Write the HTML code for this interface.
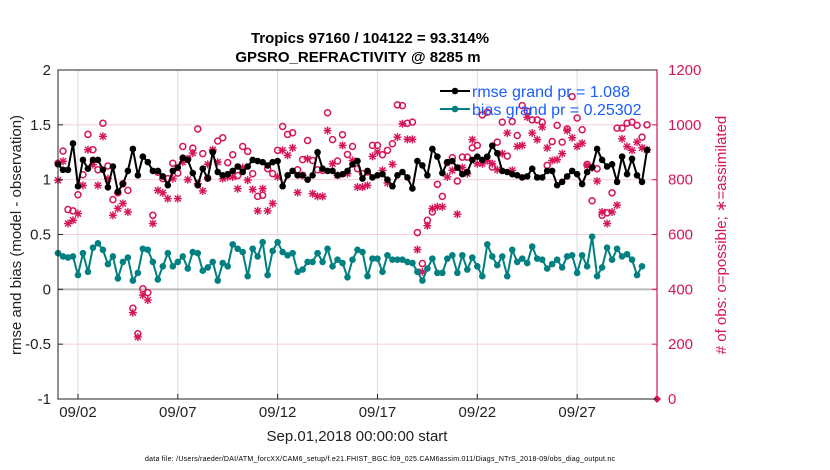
<!DOCTYPE html>
<html><head><meta charset="utf-8"><style>
body{margin:0;background:#fff;}
svg{display:block;font-family:"Liberation Sans",Arial,sans-serif;}
</style></head><body>
<svg id="chart" width="830" height="470" viewBox="0 0 830 470">
<g id="grid"></g><g id="marks"></g><g id="axes"></g>
</svg>
<script>
const rmse=[1.14,1.09,1.09,1.33,0.94,1.18,1.10,1.18,1.18,1.09,0.93,1.12,0.89,0.96,1.08,1.28,1.04,1.21,1.16,1.08,1.08,1.03,0.95,1.08,1.11,1.20,1.18,1.06,0.95,1.10,1.01,1.25,1.07,1.04,1.05,1.08,1.12,1.07,1.12,1.18,1.17,
1.16,1.13,1.16,1.17,0.94,1.04,1.08,1.04,1.04,1.00,1.04,1.25,1.10,1.08,1.08,1.04,1.05,1.08,1.14,1.17,1.01,1.08,1.02,1.04,1.05,1.00,0.94,1.04,1.07,1.02,0.92,1.17,1.13,1.04,1.28,1.21,1.06,1.16,1.17,1.11,
1.05,1.07,1.18,1.21,1.18,1.21,1.31,1.24,1.08,1.07,1.05,1.04,1.02,1.03,1.10,1.02,1.02,1.08,1.08,0.95,0.98,1.03,1.08,1.05,0.96,1.07,1.11,1.28,1.18,1.12,1.14,0.98,1.21,1.05,1.19,1.04,0.98,1.27];
const bias=[0.33,0.30,0.29,0.30,0.13,0.33,0.16,0.38,0.42,0.36,0.23,0.30,0.10,0.25,0.29,0.08,0.15,0.37,0.36,0.25,0.09,0.21,0.33,0.21,0.25,0.30,0.19,0.34,0.33,0.17,0.20,0.25,0.08,0.24,0.21,0.41,0.37,0.34,0.12,0.37,0.30,
0.43,0.13,0.35,0.43,0.34,0.31,0.33,0.16,0.18,0.25,0.25,0.33,0.25,0.37,0.21,0.27,0.24,0.11,0.27,0.36,0.34,0.12,0.28,0.28,0.16,0.31,0.27,0.27,0.27,0.25,0.24,0.16,0.08,0.19,0.28,0.15,0.15,0.28,
0.31,0.15,0.31,0.18,0.29,0.21,0.12,0.41,0.30,0.22,0.30,0.12,0.36,0.25,0.28,0.24,0.39,0.28,0.27,0.19,0.23,0.27,0.20,0.30,0.31,0.15,0.31,0.21,0.48,0.12,0.20,0.38,0.27,0.37,0.30,0.32,0.27,0.13,0.21];
const possible=[860,904,691,686,745,818,965,909,836,1006,850,727,752,785,761,331,238,402,388,670,827,804,804,860,824,921,876,915,985,895,806,904,941,953,862,891,815,921,903,822,739,
743,840,822,907,994,965,971,836,873,943,870,836,834,1044,946,868,964,892,921,840,822,828,925,925,891,907,931,1073,1070,1006,1010,607,494,652,682,783,739,862,880,795,882,
882,916,925,1036,1046,846,937,1010,886,1012,961,1070,1050,1018,1018,1010,852,939,998,937,985,1103,1025,982,856,723,840,670,679,752,988,988,1006,1010,998,955,1000];
const assimilated=[798,867,640,652,676,779,909,855,779,958,804,670,695,713,682,315,226,379,361,640,761,752,731,804,731,864,800,897,785,759,856,909,864,804,810,810,767,844,798,764,686,
767,686,713,810,907,889,916,753,816,876,749,739,739,979,858,816,925,822,870,773,773,779,885,901,834,788,856,955,1004,947,947,545,464,632,695,701,701,810,834,674,844,
822,946,858,858,870,858,836,895,970,834,921,925,1028,970,946,992,916,870,873,895,979,953,921,933,852,844,795,682,640,682,707,949,921,907,937,916,909];
const xTickDays=[1,6,11,16,21,26];
const xTickLabels=["09/02","09/07","09/12","09/17","09/22","09/27"];
const yTicks=[2,1.5,1,0.5,0,-0.5,-1];
const yTickLabels=["2","1.5","1","0.5","0","-0.5","-1"];
const rTicks=[0,200,400,600,800,1000,1200];
const PER_DAY=4;
const L=58,R=657,T=70,B=399,CR="#d6145a",TEAL="#008080";
const xs=d=>L+(d/30)*(R-L);
const ys=v=>B-(v+1)/3*(B-T);
const yr=c=>B-c/1200*(B-T);
const NS="http://www.w3.org/2000/svg";
function mk(tag,parent,attrs){const e=document.createElementNS(NS,tag);for(const k in attrs)e.setAttribute(k,attrs[k]);parent.appendChild(e);return e;}
const grid=document.getElementById('grid'),marks=document.getElementById('marks'),axes=document.getElementById('axes');
xTickDays.forEach((d,i)=>{const l=mk('line',grid,{x1:xs(d),x2:xs(d),y1:T,y2:B,stroke:'#dcdcdc','stroke-width':1});

const tk=mk('line',axes,{x1:xs(d),x2:xs(d),y1:B,y2:B-5,stroke:'#222'});

const t=mk('text',axes,{x:xs(d),y:B+18,'text-anchor':'middle','font-size':15,fill:'#222'});t.textContent=xTickLabels[i];
});
rTicks.forEach(c=>{if(c>0&&c<1200&&c!==400){const l=mk('line',grid,{x1:L,x2:R,y1:yr(c),y2:yr(c),stroke:'#f6cfdc','stroke-width':1});
}
const tk=mk('line',axes,{x1:R,x2:R-5,y1:yr(c),y2:yr(c),stroke:CR});
const t=mk('text',axes,{x:R+11,y:yr(c)+5,'font-size':15,fill:CR});t.textContent=String(c);
});
const zl=mk('line',grid,{x1:L,x2:R,y1:ys(0),y2:ys(0),stroke:'#bbb','stroke-width':2});

yTicks.forEach((v,i)=>{const tk=mk('line',axes,{x1:L,x2:L+5,y1:ys(v),y2:ys(v),stroke:'#222'});

const t=mk('text',axes,{x:L-7,y:ys(v)+5,'text-anchor':'end','font-size':15,fill:'#222'});t.textContent=yTickLabels[i];
});
// obs markers
function star(x,y){const g=mk('g',marks,{stroke:CR,'stroke-width':1.4});const s=4;
mk('line',g,{x1:x-s,x2:x+s,y1:y,y2:y});mk('line',g,{x1:x,x2:x,y1:y-s,y2:y+s});
mk('line',g,{x1:x-3,x2:x+3,y1:y-3,y2:y+3});mk('line',g,{x1:x-3,x2:x+3,y1:y+3,y2:y-3});return g;}
assimilated.forEach((c,i)=>{const g=star(xs(i/PER_DAY),yr(c));});
possible.forEach((c,i)=>{const e=mk('circle',marks,{cx:xs(i/PER_DAY),cy:yr(c),r:3,fill:'none',stroke:CR,'stroke-width':1.5});
});
const dm=mk('path',marks,{d:`M${R-4},${B} L${R},${B-4} L${R+4},${B} L${R},${B+4}Z`,fill:CR});

function series(arr,color,name){const p=mk('polyline',marks,{points:arr.map((v,i)=>xs(i/PER_DAY)+','+ys(v)).join(' '),fill:'none',stroke:color,'stroke-width':2});

arr.forEach((v,i)=>{const c=mk('circle',marks,{cx:xs(i/PER_DAY),cy:ys(v),r:3.3,fill:color});
});}
series(rmse,'#000','rmse');series(bias,TEAL,'bias');
</script>
<svg style="position:absolute;left:0;top:0" width="830" height="470">
<rect x="58" y="70" width="599" height="329" fill="none" stroke="#222" stroke-width="1"/>
<line x1="657" y1="70" x2="657" y2="399" stroke="#d6145a" stroke-width="1.2"/>
<text x="370" y="43" text-anchor="middle" font-size="15" font-weight="bold" font-family="Liberation Sans, sans-serif" fill="#000">Tropics 97160 / 104122 = 93.314%</text>
<text x="358" y="62" text-anchor="middle" font-size="15" font-weight="bold" font-family="Liberation Sans, sans-serif" fill="#000">GPSRO_REFRACTIVITY @ 8285 m</text>
<text transform="translate(21,235) rotate(-90)" text-anchor="middle" font-size="15" font-family="Liberation Sans, sans-serif" fill="#222">rmse and bias (model - observation)</text>
<text transform="translate(726,235) rotate(-90)" text-anchor="middle" font-size="15" font-family="Liberation Sans, sans-serif" fill="#d6145a"># of obs: o=possible; ∗=assimilated</text>
<text x="357" y="441" text-anchor="middle" font-size="15" font-family="Liberation Sans, sans-serif" fill="#222">Sep.01,2018 00:00:00 start</text>
<text x="145" y="461" font-size="7" font-family="Liberation Sans, sans-serif" fill="#000" textLength="470">data file: /Users/raeder/DAI/ATM_forcXX/CAM6_setup/f.e21.FHIST_BGC.f09_025.CAM6assim.011/Diags_NTrS_2018-09/obs_diag_output.nc</text>
<g>
<line x1="440" y1="91" x2="470" y2="91" stroke="#000" stroke-width="2"/><circle cx="455" cy="91" r="3.3" fill="#000"/>
<text x="472" y="97" font-size="16" font-family="Liberation Sans, sans-serif" fill="#1a5cff">rmse grand pr = 1.088</text>
<line x1="440" y1="109" x2="470" y2="109" stroke="#008080" stroke-width="2"/><circle cx="455" cy="109" r="3.3" fill="#008080"/>
<text x="472" y="115" font-size="16" font-family="Liberation Sans, sans-serif" fill="#1a5cff">bias grand pr = 0.25302</text>
</g>
</svg>
</body></html>
